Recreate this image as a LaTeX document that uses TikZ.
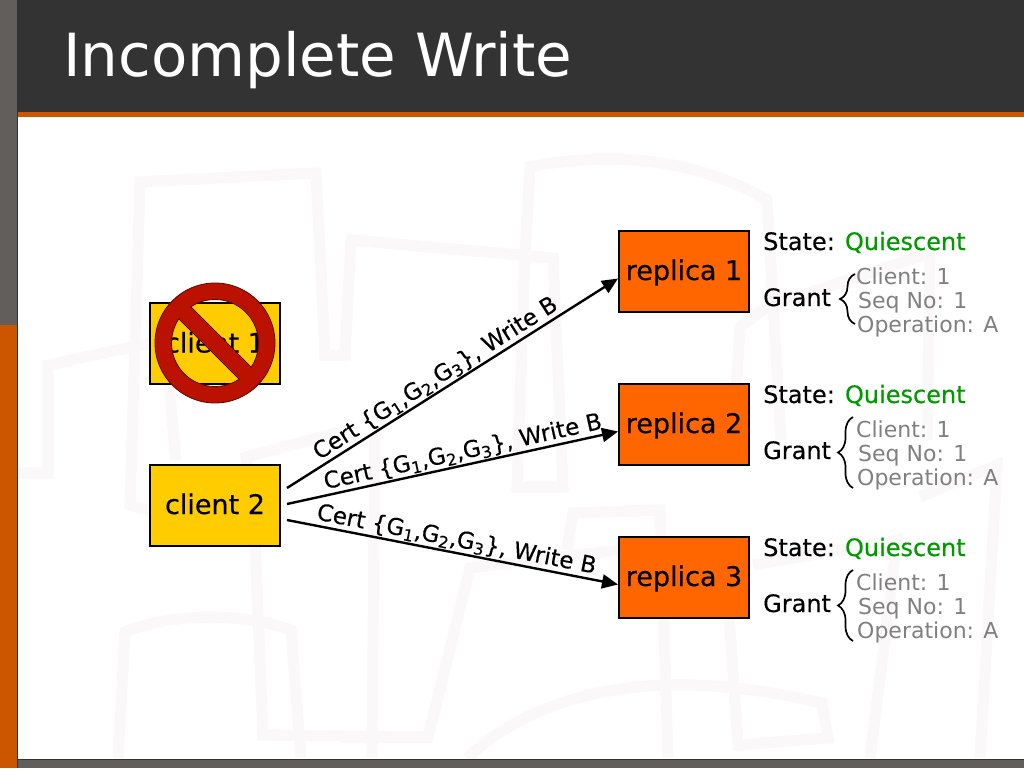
\documentclass[tikz,border=0pt]{standalone}
\usepackage{fontspec}
\setmainfont{DejaVu Sans}
\newfontfamily\heavyfont[FakeBold=.35]{DejaVu Sans}
\usepackage{tikz}
\usetikzlibrary{arrows.meta, decorations.pathreplacing}
\definecolor{headgrey}{HTML}{333333}
\definecolor{bandgrey}{HTML}{625E5C}
\definecolor{bandorange}{HTML}{CC5500}
\definecolor{markgrey}{HTML}{FAF8F8}
\definecolor{clientyellow}{HTML}{FFCC00}
\definecolor{replicaorange}{HTML}{FF6600}
\definecolor{signred}{HTML}{BB1100}
\definecolor{quietgreen}{HTML}{009900}
\definecolor{grantgrey}{HTML}{808080}

\begin{document}
\begin{tikzpicture}[
          x=1pt,y=-1pt,
          wmark/.style={draw=markgrey,line width=11pt,line join=miter},
          clientbox/.style={rectangle,draw,line width=2pt,fill=clientyellow,minimum width=130pt,minimum height=81pt,text height=22pt,text depth=4pt,font=\heavyfont\fontsize{27}{30}\selectfont},
          replicabox/.style={rectangle,draw,line width=2pt,fill=replicaorange,minimum width=130pt,minimum height=81pt,text height=22pt,text depth=4pt,font=\heavyfont\fontsize{27}{30}\selectfont},
          msg/.style={-{Triangle[length=16pt,width=14pt]},line width=2.4pt},
          msgtxt/.style={sloped,above,inner sep=1pt,font=\heavyfont\fontsize{23}{26}\selectfont},
          rowtxt/.style={anchor=base west,inner sep=0pt,font=\heavyfont\fontsize{24}{28}\selectfont},
          granttxt/.style={anchor=base west,inner sep=0pt,text=grantgrey,font=\fontsize{22}{26}\selectfont},
          grantbrace/.style={decorate,decoration={brace,amplitude=15pt,aspect=.5},line width=1.7pt}
        ]
        \useasboundingbox (0,0) rectangle (1024,768);
        % page
        \fill[white] (0,0) rectangle (1024,768);
        % watermark
        \draw[wmark] (165,515) -- (130,505) -- (140,182) -- (316,173) -- (325,355) -- (345,355) -- (351,240) -- (553,258) -- (563,487) -- (517,487) -- (525,253) -- (530,167) .. controls (590,155) and (680,150) .. (767,200) -- (781,440);
        \draw[wmark] (18,473) -- (48,473) -- (48,365) -- (165,340) -- (176,460);
        \draw[wmark] (340,737) -- (428,737) -- (470,568) -- (620,550);
        \draw[wmark] (428,737) -- (263,735) -- (255,540) -- (246,457) -- (340,432);
        \draw[wmark] (375,425) -- (372,758);
        \draw[wmark] (118,758) -- (125,632) .. controls (180,610) and (250,615) .. (291,630) -- (301,758);
        \draw[wmark] (567,550) -- (573,513) -- (660,510) -- (668,758);
        \draw[wmark] (467,758) .. controls (530,700) and (640,660) .. (822,703) -- (828,738) -- (738,745) -- (728,600);
        \draw[wmark] (870,758) -- (897,540) -- (753,565);
        \draw[wmark] (980,758) -- (997,465) -- (920,497);
        \draw[wmark] (733,437) -- (740,327) -- (767,307) -- (930,253) -- (927,440);
        % slide frame
        \fill[headgrey] (17,0) rectangle (1024,110);
        \fill[black!80] (17,110) rectangle (1024,112);
        \fill[bandorange] (17,112) rectangle (1024,117);
        \fill[bandgrey] (0,0) rectangle (17,325);
        \fill[bandorange] (0,325) rectangle (17,768);
        \fill[bandgrey] (17,759) rectangle (1024,768);
        \draw[black!80,line width=1pt] (17,0) -- (17,768);
        \draw[black!80,line width=1pt] (17,759) -- (1024,759);
        \node[anchor=base west,inner sep=0pt,text=white,font=\fontsize{59.5}{70}\selectfont] (title) at (63,77) {Incomplete Write};
        % clients
        \node[clientbox] (client1) at (215,343.5) {client 1};
        \node[clientbox] (client2) at (215,505) {client 2};
        % no entry sign over client 1
        \node[rectangle,draw=signred!50!black,fill=signred,line width=.8pt,rotate=-45,minimum width=88pt,minimum height=17pt,inner sep=0pt] (nobar) at (215,343) {};
        \fill[signred,draw=signred!50!black,line width=.8pt,even odd rule] (215,343) circle[radius=60] (215,343) circle[radius=43.5];
        \node[rectangle,fill=signred,rotate=-45,minimum width=92pt,minimum height=15.5pt,inner sep=0pt] (nofill) at (215,343) {};
        % replicas and their state
        \foreach\r/\y/\bx/\tp/\bt in {1/271/855/274/324, 2/424/853/417/488, 3/577/853/570/641}{
          \node[replicabox] (replica\r) at (684,\y) {replica \r};
          \coordinate (in\r) at (618,\y+7.5);
          \node[rowtxt] (state\r) at (763,\y-21) {State: \textcolor{quietgreen}{Quiescent}};
          \node[rowtxt] (grant\r) at (763,\y+35) {Grant};
          \node[granttxt] (gclient\r) at (856,\y+13) {Client: 1};
          \node[granttxt] (gseq\r) at (858,\y+37) {Seq No: 1};
          \node[granttxt] (gop\r) at (857,\y+61) {Operation: A};
          \coordinate (bb\r) at (\bx,\bt);
          \coordinate (bt\r) at (\bx,\tp);
          \draw[grantbrace] (bb\r) -- (bt\r);
        }
        % messages
        \coordinate (out1) at (287,488);
        \coordinate (out2) at (287,504);
        \coordinate (out3) at (287,520);
        \def\certtxt{Cert \{G\textsubscript{1},G\textsubscript{2},G\textsubscript{3}\}, Write B}
        \draw[msg] (out1) -- node[msgtxt,pos=.47] (cert1) {\certtxt} (in1);
        \draw[msg] (out2) -- node[msgtxt,pos=.54] (cert2) {\certtxt} (in2);
        \draw[msg] (out3) -- node[msgtxt,pos=.505] (cert3) {\certtxt} (in3);
      \end{tikzpicture}
\end{document}
